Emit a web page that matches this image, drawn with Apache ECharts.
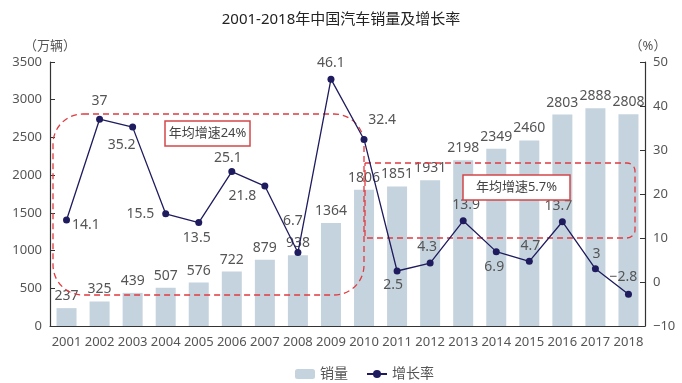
<!DOCTYPE html>
<html><head><meta charset="utf-8">
<script src="https://cdn.jsdelivr.net/npm/echarts@6/dist/echarts.min.js"></script>
<style>html,body{margin:0;padding:0;background:#fff}#c{width:682px;height:383px}</style>
</head><body><div id="c"></div>
<script>
var years = ['2001','2002','2003','2004','2005','2006','2007','2008','2009','2010','2011','2012','2013','2014','2015','2016','2017','2018'];
var sales = [237, 325, 439, 507, 576, 722, 879, 938, 1364, 1806, 1851, 1931, 2198, 2349, 2460, 2803, 2888, 2808];
var growth = [14.1, 37, 35.2, 15.5, 13.5, 25.1, 21.8, 6.7, 46.1, 32.4, 2.5, 4.3, 13.9, 6.9, 4.7, 13.7, 3, -2.8];
var leftTicks = {min: 0, max: 3500, interval: 500};
var rightTicks = {min: -10, max: 50, interval: 10};

// label placement for growth labels (style, not data)
var gLabelPos = [
  {position:'right', offset:[-3,5]},
  {position:'top', offset:[0,-3]},
  {position:'bottom', offset:[-11,2]},
  {position:'left', offset:[-3,0]},
  {position:'bottom', offset:[-2,0]},
  {position:'top', offset:[-4,2]},
  {position:'left', offset:[0,10]},
  {position:'top', offset:[-5,-16]},
  {position:'top', offset:[0,-1]},
  {position:'top', offset:[18,-4]},
  {position:'bottom', offset:[-4,-1]},
  {position:'top', offset:[-3,-1]},
  {position:'top', offset:[3,0]},
  {position:'bottom', offset:[-2,0]},
  {position:'top', offset:[1,0]},
  {position:'top', offset:[-4,0]},
  {position:'top', offset:[1,1]},
  {position:'top', offset:[-5,-2]}
];

var FONT = "'Noto Sans', 'Noto Sans CJK SC', sans-serif";
var TXT = '#555';
var RED = '#e23a3f';
function fmtMinus(v){ return String(v).replace('-', '\u2212'); }

var chart = echarts.init(document.getElementById('c'), null, {renderer:'canvas'});
var lineData = growth.map(function(v,i){
  return {value:v, label:{position:gLabelPos[i].position, offset:gLabelPos[i].offset}};
});
chart.setOption({
  animation:false,
  textStyle:{fontFamily:FONT},
  title:{text:'2001-2018年中国汽车销量及增长率', left:'center', top:7,
    textStyle:{fontSize:15, fontWeight:'normal', color:'#222', fontFamily:FONT}},
  grid:{left:50, right:37, top:62, bottom:57, containLabel:false},
  legend:{top:362, left:290, itemWidth:20, itemHeight:10, itemGap:18,
    textStyle:{fontSize:14, color:TXT, fontFamily:FONT},
    data:['销量','增长率']},
  xAxis:{type:'category', data:years,
    axisLine:{lineStyle:{color:'#333', width:1.2}},
    axisTick:{inside:true, length:5, lineStyle:{color:'#333'}},
    axisLabel:{interval:0, margin:10, fontSize:13, color:TXT, fontFamily:FONT}},
  yAxis:[
    {type:'value', min:leftTicks.min, max:leftTicks.max, interval:leftTicks.interval,
     name:'（万辆）', nameLocation:'end', nameGap:9,
     nameTextStyle:{fontSize:13, color:TXT, align:'center'},
     axisLine:{show:true, lineStyle:{color:'#333', width:1.2}},
     axisTick:{show:true, inside:true, length:5, lineStyle:{color:'#333'}},
     splitLine:{show:false},
     axisLabel:{margin:8, fontSize:13, color:TXT, fontFamily:FONT, formatter:function(v){return String(v);}}},
    {type:'value', min:rightTicks.min, max:rightTicks.max, interval:rightTicks.interval,
     name:'（%）', nameLocation:'end', nameGap:9,
     nameTextStyle:{fontSize:13, color:TXT, align:'center', padding:[0,0,0,6]},
     axisLine:{show:true, lineStyle:{color:'#333', width:1.2}},
     axisTick:{show:true, inside:true, length:5, lineStyle:{color:'#333'}},
     splitLine:{show:false},
     axisLabel:{margin:8, fontSize:13, color:TXT, fontFamily:FONT, formatter:fmtMinus}}
  ],
  series:[
    {name:'销量', type:'bar', data:sales, barWidth:20, yAxisIndex:0,
     itemStyle:{color:'#c5d3de'},
     label:{show:true, position:'top', distance:5, fontSize:14, color:TXT, fontFamily:FONT}},
    {name:'增长率', type:'line', data:lineData, yAxisIndex:1, z:5,
     symbol:'circle', symbolSize:7,
     lineStyle:{color:'#1e1b5e', width:1.3},
     itemStyle:{color:'#1e1b5e'},
     label:{show:true, fontSize:14, color:TXT, fontFamily:FONT, distance:5, formatter:function(p){return fmtMinus(p.value);}}}
  ],
  graphic:[
    {type:'rect', z:4, shape:{x:53, y:114, width:311, height:181, r:30},
     style:{fill:'none', stroke:RED, lineWidth:1.3, lineDash:[6,4]}},
    {type:'rect', z:4, shape:{x:365, y:163, width:270, height:75, r:[0,8,8,0]},
     style:{fill:'none', stroke:RED, lineWidth:1.3, lineDash:[6,4]}},
    {type:'rect', z:6, shape:{x:165, y:121, width:85, height:25},
     style:{fill:'#fff', stroke:'#d4474a', lineWidth:1.5}},
    {type:'text', z:7, x:207.5, y:133.5,
     style:{text:'年均增速24%', fontSize:13, fill:'#444', fontFamily:FONT, align:'center', verticalAlign:'middle'}},
    {type:'rect', z:6, shape:{x:463, y:175, width:107, height:25},
     style:{fill:'#fff', stroke:'#d4474a', lineWidth:1.5}},
    {type:'text', z:7, x:516.5, y:187.5,
     style:{text:'年均增速5.7%', fontSize:13, fill:'#444', fontFamily:FONT, align:'center', verticalAlign:'middle'}}
  ]
});
</script></body></html>
